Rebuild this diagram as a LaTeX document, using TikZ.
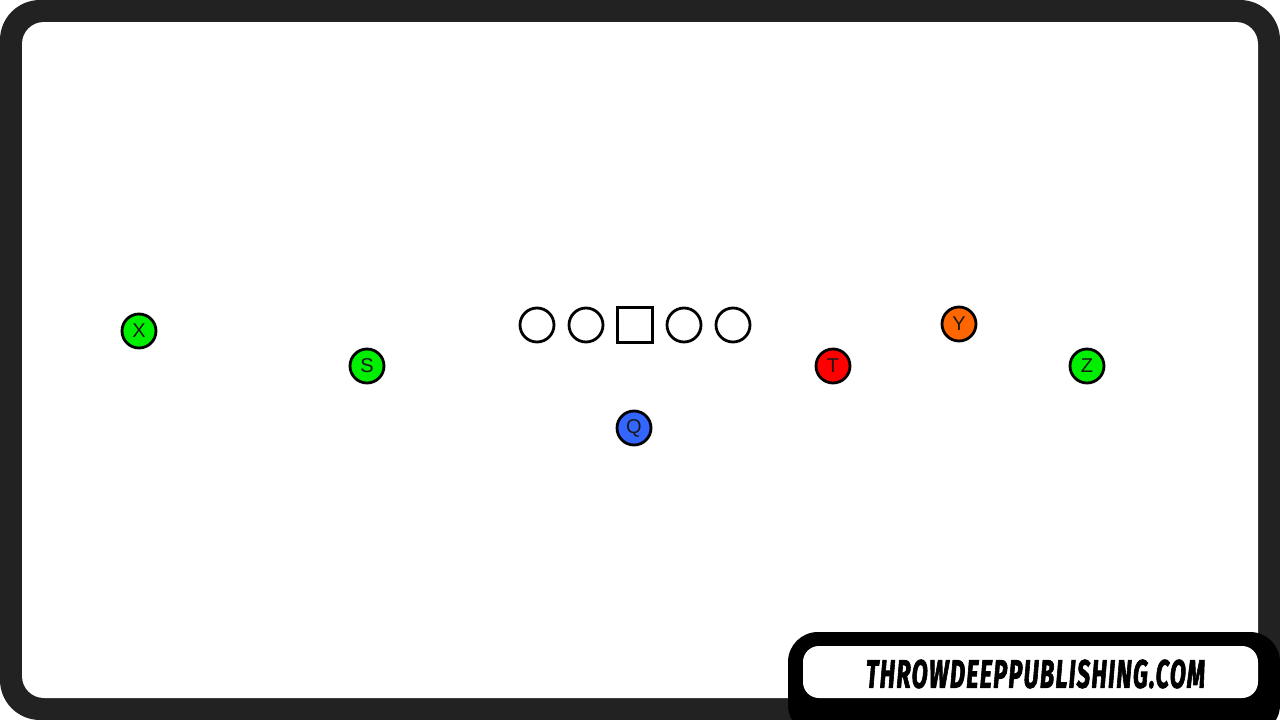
\documentclass[tikz,border=0pt]{standalone}
\usepackage{fontspec}
\setmainfont{Liberation Sans}
\newfontfamily\logofont[LetterSpace=6, BoldItalicFeatures={FakeBold=2.5}]{Fira Sans}
\definecolor{framedark}{HTML}{222222}
\definecolor{pgreen}{HTML}{00EE00}
\definecolor{pblue}{HTML}{3366FF}
\definecolor{pred}{HTML}{FF0000}
\definecolor{porange}{HTML}{FF6600}
\definecolor{txtdark}{HTML}{1A1A1A}
\tikzset{
  player/.style={circle, draw=black, line width=2.8pt, minimum size=34pt, inner sep=0pt,
    font=\fontsize{20}{20}\selectfont, text=txtdark},
  lineman/.style={circle, draw=black, line width=2.8pt, fill=white, minimum size=34pt, inner sep=0pt},
  centerbox/.style={rectangle, draw=black, line width=2.8pt, fill=white, minimum size=35pt, inner sep=0pt}
}
\begin{document}
\begin{tikzpicture}[x=1pt,y=-1pt]
\useasboundingbox (0,0) rectangle (1280,720);
\fill[white] (0,0) rectangle (1280,720);
\fill[framedark, rounded corners=40pt] (0,0) rectangle (1280,720);
\fill[white, rounded corners=22pt] (22,22) rectangle (1258,698);
% players
\node[player, fill=pgreen] (X) at (139,331) {X};
\node[player, fill=pgreen] (S) at (367,366) {S};
\node[lineman] (LT) at (537,325) {};
\node[lineman] (LG) at (586,325) {};
\node[centerbox] (C) at (635,325) {};
\node[lineman] (RG) at (684,325) {};
\node[lineman] (RT) at (733,325) {};
\node[player, fill=pblue] (Q) at (634,428) {Q};
\node[player, fill=pred] (T) at (833,366) {T};
\node[player, fill=porange] (Y) at (959,324) {Y};
\node[player, fill=pgreen] (Z) at (1087,366) {Z};
% logo
\fill[black, rounded corners=30pt] (788,632) rectangle (1280,735);
\fill[white, rounded corners=16pt] (803,646) rectangle (1258,698);
\node[inner sep=0pt] (logo) at (1035.5,674) {\resizebox{339pt}{28pt}{\logofont\bfseries\itshape THROWDEEPPUBLISHING.COM}};
\end{tikzpicture}
\end{document}
